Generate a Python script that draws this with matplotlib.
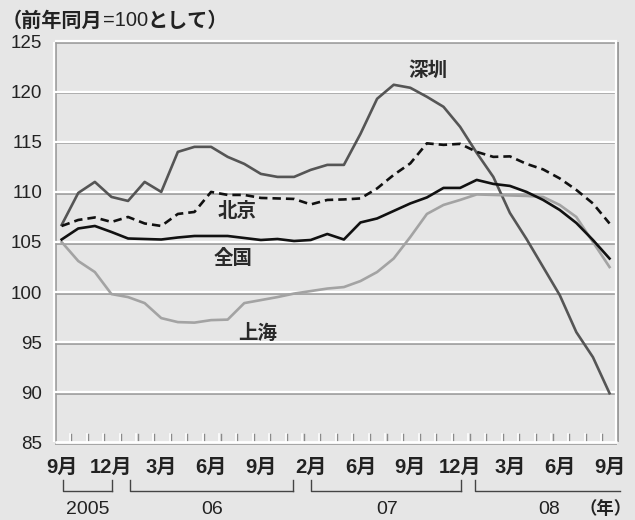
import matplotlib
matplotlib.use('Agg')
import matplotlib.pyplot as plt
import matplotlib.transforms as mtransforms

# ---- data ----
shenzhen = [106.7, 109.9, 111.0, 109.5, 109.1, 111.0, 110.0, 114.0, 114.5, 114.5,
            113.5, 112.8, 111.8, 111.5, 111.5, 112.2, 112.7, 112.7, 115.8, 119.3,
            120.7, 120.4, 119.5, 118.5, 116.5, 113.9, 111.5, 107.9, 105.3, 102.5,
            99.7, 96.0, 93.5, 89.9]
beijing = [106.6, 107.2, 107.45, 107.0, 107.5, 106.85, 106.6, 107.8, 108.0, 110.0,
           109.7, 109.7, 109.4, 109.35, 109.3, 108.75, 109.2, 109.25, 109.35, 110.35,
           111.7, 112.85, 114.85, 114.7, 114.8, 114.0, 113.5, 113.55, 112.8, 112.25,
           111.35, 110.2, 108.85, 106.85]
national = [105.25, 106.35, 106.6, 106.0, 105.35, 105.3, 105.25, 105.45, 105.6, 105.6,
            105.6, 105.4, 105.2, 105.3, 105.1, 105.2, 105.8, 105.25, 106.95, 107.35,
            108.1, 108.85, 109.45, 110.4, 110.4, 111.2, 110.8, 110.6, 110.0, 109.2,
            108.2, 106.9, 105.2, 103.35]
shanghai = [105.0, 103.1, 102.0, 99.8, 99.5, 98.9, 97.4, 97.0, 96.95, 97.2,
            97.25, 98.9, 99.2, 99.5, 99.85, 100.1, 100.35, 100.5, 101.1, 102.0,
            103.35, 105.5, 107.8, 108.7, 109.2, 109.75, 109.7, 109.65, 109.6, 109.5,
            108.7, 107.5, 105.0, 102.5]

month_label_idx = [0, 3, 6, 9, 12, 15, 18, 21, 24, 27, 30, 33]
month_labels = ['9月', '12月', '3月', '6月', '9月', '2月', '6月', '9月', '12月', '3月', '6月', '9月']
year_labels = ['2005', '06', '07', '08']
year_label_x = [1.57, 9.04, 19.6, 29.35]
year_brackets = [(0.1, 3.06, True), (4.11, 13.95, True), (15.0, 24.04, True), (24.9, 33.63, False)]
yticks = [85, 90, 95, 100, 105, 110, 115, 120, 125]

BG = '#e6e6e6'
CJK = 'Noto Sans CJK JP'
LAT = 'Liberation Sans'

fig = plt.figure(figsize=(6.35, 5.2), dpi=100, facecolor=BG)
ax = fig.add_axes([55/635, 77.7/520, 562/635, 400.6/520])
ax.set_facecolor(BG)
n = len(national)
x = list(range(n))
ax.set_xlim(-0.40, 33.45)
ax.set_ylim(85, 125)
for s in ax.spines.values():
    s.set_visible(False)
ax.set_xticks([])
ax.set_yticks(yticks)
ax.set_yticklabels([str(v) for v in yticks], family=[LAT], fontsize=13.5, color='#222222')
ax.tick_params(axis='y', length=0, pad=9)

# embossed gridlines
ytr = ax.get_yaxis_transform()
for v in yticks[1:-1]:
    ax.plot([0, 1], [v, v], color='#9a9a9a', lw=1.2, zorder=1, solid_capstyle='butt',
            transform=mtransforms.offset_copy(ytr, fig=fig, x=0, y=-1.6, units='dots'))
    ax.plot([0, 1], [v, v], color='white', lw=1.6, zorder=1.1, solid_capstyle='butt',
            transform=ytr)

# frame
atr = ax.transAxes
def seg(xs, ys, color, lw, dx, dy, z):
    ax.plot(xs, ys, color=color, lw=lw, zorder=z, clip_on=False, solid_capstyle='butt',
            transform=mtransforms.offset_copy(atr, fig=fig, x=dx, y=dy, units='dots'))
seg([0, 1], [1, 1], 'white', 1.6, 0, 1, 1.1)
seg([0, 1], [1, 1], '#9a9a9a', 1.2, 0, -1, 1)
seg([0, 0], [0, 1], 'white', 1.6, -1, 0, 1.1)
seg([0, 0], [0, 1], '#9a9a9a', 1.2, 1, 0, 1)
seg([1, 1], [0, 1], 'white', 1.6, -1, 0, 1.1)
seg([1, 1], [0, 1], '#9a9a9a', 1.4, 1, 0, 1)
seg([0, 1], [0, 0], '#9a9a9a', 1.2, 0, -1.5, 1)
seg([0, 1], [0, 0], 'white', 2.0, 0, 0.5, 1.1)

# inward ticks between categories
xtr = ax.get_xaxis_transform()
for i in range(n - 1):
    xi = i + 0.5
    ax.plot([xi, xi], [0, 0.02], color='#8a8a8a', lw=1.0, zorder=1,
            transform=mtransforms.offset_copy(xtr, fig=fig, x=1.2, y=0, units='dots'))
    ax.plot([xi, xi], [0, 0.02], color='white', lw=1.2, zorder=1.1, transform=xtr)

# lines
ax.plot(x, shenzhen, color='#555555', lw=1.9, zorder=3)
ax.plot(x, shanghai, color='#a3a3a3', lw=1.9, zorder=3)
ax.plot(x, national, color='#111111', lw=1.9, zorder=4)
ax.plot(x, beijing, color='#111111', lw=1.9, zorder=5, dashes=(3.2, 1.9))

# series labels
lab_kw = dict(family=[CJK], fontsize=14, fontweight='bold', color='#2a2a2a',
              ha='center', va='center', zorder=6)
ax.text(22.06, 122.17, '深圳', **lab_kw)
ax.text(10.54, 108.02, '北京', **lab_kw)
ax.text(10.32, 103.4, '全国', **lab_kw)
ax.text(11.83, 95.9, '上海', **lab_kw)

# month labels
btr = mtransforms.blended_transform_factory(ax.transData, fig.transFigure)
for idx, lab in zip(month_label_idx, month_labels):
    ax.text(idx, 0.1006, lab, transform=btr, family=[LAT, CJK], fontsize=14.5,
            fontweight='bold', color='#222222', ha='center', va='center', clip_on=False)

# year brackets
for x0, x1, right_tick in year_brackets:
    ax.plot([x0, x0, x1], [0.0769, 0.0563, 0.0563], transform=btr, color='#444444',
            lw=1.0, clip_on=False)
    if right_tick:
        ax.plot([x1, x1], [0.0563, 0.0769], transform=btr, color='#444444',
                lw=1.0, clip_on=False)
for xl, lab in zip(year_label_x, year_labels):
    ax.text(xl, 0.021, lab, transform=btr, family=[LAT], fontsize=14,
            color='#222222', ha='center', va='center', clip_on=False)
fig.text(632 / 635, 0.021, '（年）', family=[CJK], fontsize=12.5,
         fontweight='bold', color='#222222', ha='right', va='center')

# title, composed of parts
fig.canvas.draw()
renderer = fig.canvas.get_renderer()
parts = [('（前年同月', [CJK], 'bold'), ('=100', [LAT], 'normal'),
         ('として）', [CJK], 'bold')]
xpix = 2
ypix = 520 - 20
for txt, fam, wt in parts:
    t = fig.text(xpix / 635, ypix / 520, txt, family=fam, fontweight=wt,
                 fontsize=14.5, color='#222222', ha='left', va='center')
    bb = t.get_window_extent(renderer)
    xpix = bb.x1

fig.savefig('out.png', dpi=100, facecolor=BG)
